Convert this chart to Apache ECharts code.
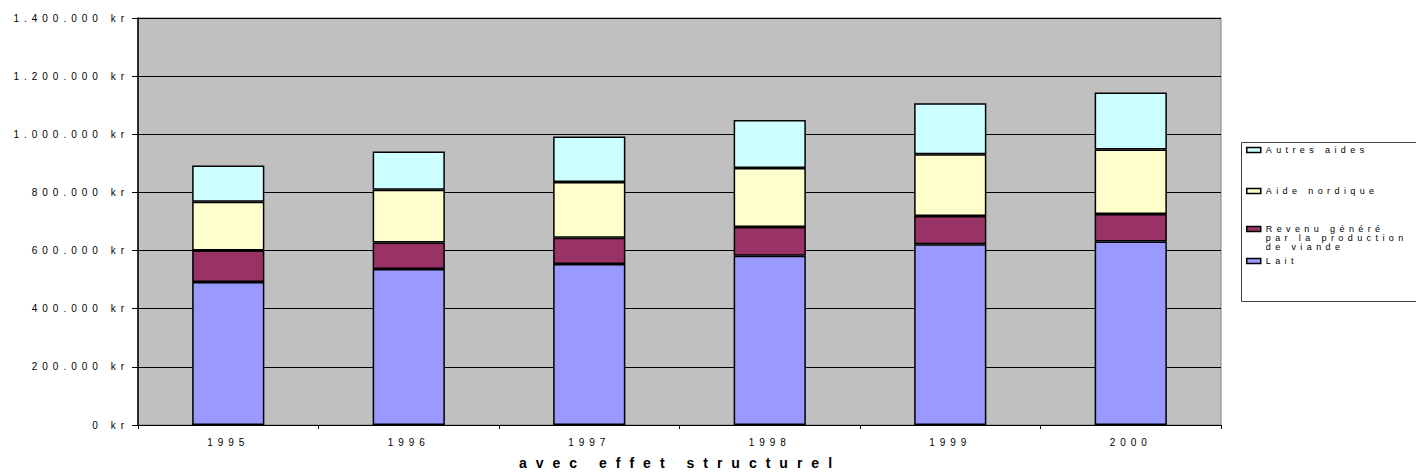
<!DOCTYPE html>
<html>
<head>
<meta charset="utf-8">
<script src="https://cdn.jsdelivr.net/npm/echarts@6/dist/echarts.min.js"></script>
<style>
html,body{margin:0;padding:0;background:#fff;}
#chart{width:1416px;height:474px;}
svg text{letter-spacing:5px;}
</style>
</head>
<body>
<div id="chart"></div>
<script>
// Data (values in kr)
const categories = ['1995', '1996', '1997', '1998', '1999', '2000'];
const lait = [492000, 537000, 554000, 582000, 622000, 631000];
const revenuViande = [108000, 91000, 90000, 99000, 97000, 95000];
const aideNordique = [168000, 181000, 192000, 203000, 212000, 222000];
const autresAides = [125000, 132000, 156000, 165000, 176000, 196000];
const seriesNames = ['Lait', 'Revenu généré par la production de viande', 'Aide nordique', 'Autres aides'];
const titleText = 'avec effet structurel';

const FONT = 'Liberation Sans, Arial, sans-serif';

function fmtKr(v) {
  const s = String(Math.round(v)).replace(/\B(?=(\d{3})+(?!\d))/g, '.');
  return s + ' kr';
}

const chart = echarts.init(document.getElementById('chart'), null, {renderer: 'svg'});

const barBase = {
  type: 'bar',
  stack: 'total',
  barWidth: '40%',
  animation: false
};

function legendFor(name, top) {
  return {
    data: [name],
    left: 1246,
    top: top,
    orient: 'vertical',
    padding: 0,
    itemWidth: 14,
    itemHeight: 5,
    icon: 'rect',
    selectedMode: false,
    itemStyle: {borderColor: '#000', borderWidth: 1.5},
    textStyle: {fontFamily: FONT, fontSize: 9, color: '#000', lineHeight: 9}
  };
}

const option = {
  animation: false,
  backgroundColor: '#fff',
  color: ['#9999FF', '#993366', '#FFFFCC', '#CCFFFF'],
  grid: {
    left: 138, right: 195, top: 18, bottom: 49,
    show: true, backgroundColor: '#C0C0C0', borderColor: '#808080', borderWidth: 1
  },
  legend: [
    legendFor(seriesNames[3], 145.5),
    legendFor(seriesNames[2], 186.5),
    Object.assign(legendFor(seriesNames[1], 206.5), {
      formatter: function () { return '\n\nRevenu généré\npar la production\nde viande'; }
    }),
    legendFor(seriesNames[0], 256.5)
  ],
  xAxis: {
    type: 'category',
    data: categories,
    axisLine: {lineStyle: {color: '#000', width: 1}},
    axisTick: {show: true, length: 4, lineStyle: {color: '#000'}},
    axisLabel: {fontFamily: FONT, fontSize: 10, color: '#000', margin: 12},
    splitLine: {show: false}
  },
  yAxis: {
    type: 'value',
    min: 0, max: 1400000, interval: 200000,
    axisLine: {show: true, lineStyle: {color: '#000', width: 1.5}},
    axisTick: {show: true, length: 6, lineStyle: {color: '#000'}},
    axisLabel: {fontFamily: FONT, fontSize: 10, color: '#000', margin: 9, formatter: fmtKr},
    splitLine: {show: true, lineStyle: {color: '#000', width: 1}}
  },
  series: [
    Object.assign({}, barBase, {name: seriesNames[0], data: lait, itemStyle: {color: '#9999FF', borderColor: '#000', borderWidth: 1.5}}),
    Object.assign({}, barBase, {name: seriesNames[1], data: revenuViande, itemStyle: {color: '#993366', borderColor: '#000', borderWidth: 1.5}}),
    Object.assign({}, barBase, {name: seriesNames[2], data: aideNordique, itemStyle: {color: '#FFFFCC', borderColor: '#000', borderWidth: 1.5}}),
    Object.assign({}, barBase, {name: seriesNames[3], data: autresAides, itemStyle: {color: '#CCFFFF', borderColor: '#000', borderWidth: 1.5}})
  ],
  graphic: [
    {
      type: 'rect', silent: true, z: -1,
      shape: {x: 1241.5, y: 142.5, width: 200, height: 159},
      style: {fill: '#fff', stroke: '#404040', lineWidth: 1}
    },
    {
      type: 'text', silent: true,
      x: 680, y: 463,
      style: {text: titleText, fontFamily: FONT, fontSize: 14, fontWeight: 'bold', fill: '#000', align: 'center', verticalAlign: 'middle'}
    }
  ]
};

chart.setOption(option);

function applySpacing() {
  document.querySelectorAll('#chart svg text').forEach(function (t) {
    const cs = getComputedStyle(t);
    const w = cs.fontWeight;
    const size = parseFloat(cs.fontSize);
    let ls = '5px';
    if (w === '700' || w === 'bold') ls = '9px';
    else if (size < 9.5) ls = '4.4px';
    t.style.letterSpacing = ls;
  });
}
applySpacing();
chart.on('finished', applySpacing);
</script>
</body>
</html>
